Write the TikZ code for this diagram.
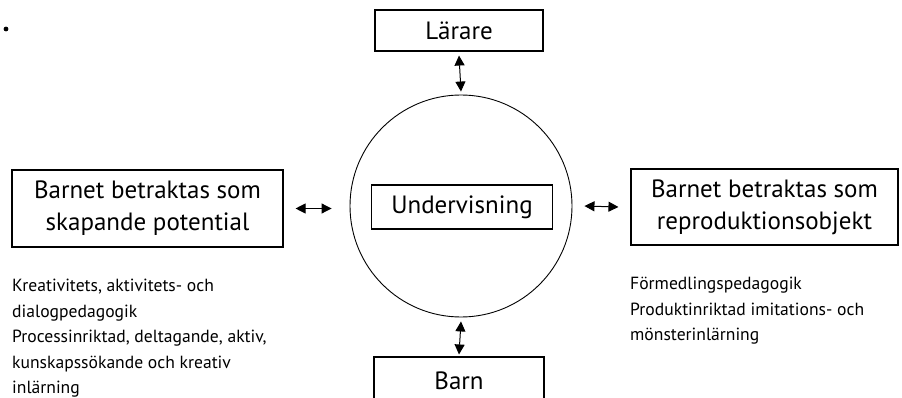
\documentclass[tikz,border=0pt]{standalone}
\usepackage{fontspec}
\setmainfont{PT Sans}
\usetikzlibrary{arrows.meta}

\begin{document}
\begin{tikzpicture}[x=1pt, y=-1pt,
    box/.style={draw, line width=1.1pt, inner sep=0pt, align=center,
        font=\fontsize{25}{32}\selectfont},
    arr/.style={{Triangle[length=10pt,width=10pt]}-{Triangle[length=10pt,width=10pt]}, line width=1pt},
    note/.style={anchor=north west, inner sep=0pt, align=left,
        font=\fontsize{17.6}{25.5}\selectfont}]
    \useasboundingbox (0,0) rectangle (902,398);

    \fill (6,29) circle (2.4pt);

    \node[draw, circle, line width=0.9pt, minimum size=222pt] (circ) at (461,206) {};
    \node[box, minimum width=181pt, minimum height=44pt] (teach) at (462,207) {Undervisning};
    \node[box, minimum width=168pt, minimum height=41pt] (larare) at (459,30.5) {Lärare};
    \node[box, minimum width=170pt, minimum height=48pt] (barn) at (459,381) {Barn};
    \node[box, minimum width=271pt, minimum height=77pt] (pot) at (147.5,208.5)
        {Barnet betraktas som\\skapande potential};
    \node[box, minimum width=267pt, minimum height=76pt] (repr) at (764.5,207)
        {Barnet betraktas som\\reproduktionsobjekt};

    \draw[arr] ([yshift=-4pt]larare.south) -- ([yshift=3pt]circ.north);
    \draw[arr] ([yshift=-4pt]circ.south) -- ([yshift=2pt]barn.north);
    \draw[arr] ([xshift=12pt]pot.east) -- ([xshift=-18pt]circ.west |- pot.east);
    \draw[arr] ([xshift=12pt]circ.east) -- ([xshift=-12pt]repr.west);

    % texts under the side boxes
    \node[note] (potnote) at (12,279) {Kreativitets, aktivitets- och\\dialogpedagogik\\Processinriktad, deltagande, aktiv,\\kunskapssökande och kreativ\\inlärning};
    \node[note] (reprnote) at (630,277) {Förmedlingspedagogik\\Produktinriktad imitations- och\\mönsterinlärning};
\end{tikzpicture}
\end{document}
